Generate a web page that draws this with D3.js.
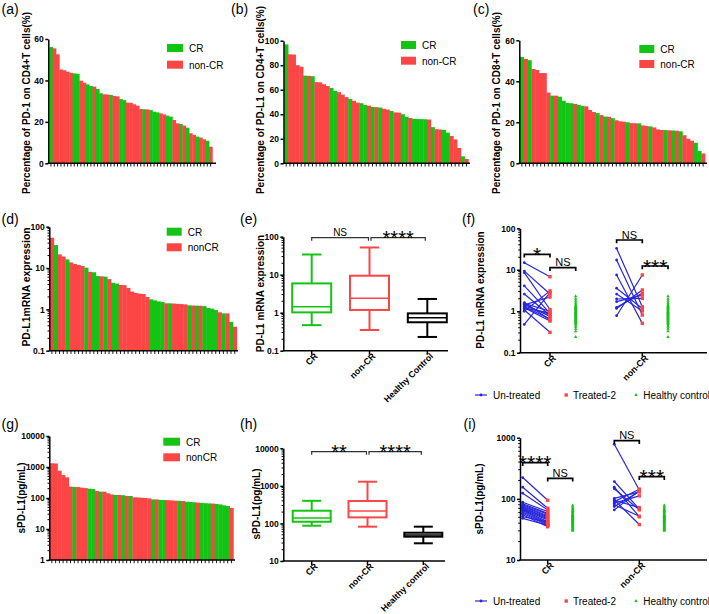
<!DOCTYPE html>
<html><head><meta charset="utf-8">
<script src="https://cdn.jsdelivr.net/npm/d3@7"></script>
<style>body{margin:0;background:#fff}svg{display:block}</style>
</head><body>
<svg id="c" width="709" height="614"></svg>
<script>
// ---------------- DATA ----------------
const barLegend1 = ["CR", "non-CR"];
const barLegend2 = ["CR", "nonCR"];

const aGroup = ["CR","NC","NC","NC","NC","NC","NC","CR","CR","NC","NC","CR","CR","NC","CR","CR","NC","NC","CR","NC","NC","CR","CR","NC","NC","NC","NC","NC","CR","NC","CR","CR","CR","NC","NC","CR","CR","NC","NC","CR","NC","CR","NC","NC","CR","NC","NC","CR","NC"];
const aValues = [56.1,55.5,52.6,45.3,44.9,44.2,43.7,43.4,43.2,39.9,38.9,38.1,37.3,37.0,35.9,33.8,33.3,33.2,33.0,32.5,32.3,31.0,30.5,29.3,29.2,28.5,27.8,26.2,26.1,26.0,25.7,24.9,24.6,24.1,23.6,23.0,22.5,20.9,19.3,19.0,18.2,17.2,14.5,13.7,12.9,12.4,11.6,10.9,8.0];
const aTicks = [0, 20, 40, 60];

const bGroup = ["CR","NC","NC","NC","NC","CR","NC","CR","NC","NC","NC","NC","CR","CR","NC","NC","NC","CR","NC","NC","CR","CR","NC","CR","NC","CR","NC","NC","CR","NC","NC","CR","CR","NC","CR","CR","CR","CR","NC","CR","NC","NC","CR","CR","NC","NC","NC","CR","NC"];
const bValues = [97,88.9,88.7,80,78.8,71.5,71.3,71,66.2,66,64.5,63,61.5,59,58,56,54,52.5,51,49.5,49,47.5,47,46,45.8,45.5,44.5,43.8,42.7,41.5,41.3,40,38,37,36.3,36.1,36,35.9,35.7,29.5,27.8,27.5,27.3,25,22.3,19.5,12.5,5.7,3.5];
const bTicks = [0, 20, 40, 60, 80, 100];

const cGroup = ["CR","NC","CR","NC","NC","NC","NC","NC","CR","NC","CR","CR","CR","CR","NC","CR","CR","NC","NC","NC","CR","NC","CR","NC","CR","NC","NC","NC","CR","NC","NC","CR","NC","NC","CR","NC","NC","NC","CR","NC","CR","NC","CR","NC","NC","NC","CR","CR","NC"];
const cValues = [51.9,50.9,50.3,46,45.5,44,44,34.5,33,33,32.5,30.5,29.5,29.3,29,28.5,28,27.8,26,25,24.5,23.5,22.8,22.7,22,21,20.5,20.3,20,19.6,19.5,19.5,18.5,18.2,18,17.5,16.5,16.3,16.2,16.1,16,15.9,15.6,13.7,12,11,10,6,4.8];
const cTicks = [0, 20, 40, 60];

const dGroup = ["NC","CR","NC","NC","CR","NC","NC","NC","NC","CR","NC","CR","CR","NC","CR","NC","CR","CR","NC","NC","NC","NC","NC","NC","NC","NC","CR","CR","CR","CR","NC","CR","NC","NC","NC","NC","CR","NC","CR","NC","CR","CR","CR","CR","NC","CR","NC","CR","NC"];
const dValues = [54,36,21.4,19,16.2,13.7,12.5,11.8,11.2,10.2,8.1,7.9,6.4,6.3,6.2,5.4,4.4,4.2,3.9,3.85,3.3,2.7,2.5,2.4,2.35,2.0,1.75,1.65,1.56,1.5,1.4,1.4,1.38,1.36,1.34,1.32,1.25,1.24,1.23,1.22,1.2,1.08,1.04,0.96,0.85,0.8,0.8,0.5,0.38];
const dTicks = [0.1, 1, 10, 100];

const gGroup = ["NC","NC","NC","NC","NC","NC","CR","NC","NC","NC","CR","CR","NC","CR","NC","NC","NC","CR","NC","CR","NC","CR","NC","NC","NC","NC","NC","CR","NC","CR","CR","NC","NC","NC","CR","NC","CR","CR","CR","NC","CR","CR","CR","NC","CR","CR","CR","CR","NC"];
const gValues = [1320,1300,760,550,465,232,228,225,215,208,200,195,168,160,160,142,130,125,125,123,116,116,105,104,102,100,97,90,90,87,86,85,84,82,81,80,76,75,73,71,70,68,67,66,64,62,58,55,48];
const gTicks = [1, 10, 100, 1000, 10000];

// box plots: [min, q1, median, q3, max]
const eCats = ["CR", "non-CR", "Healthy Control"];
const eBoxes = [[0.47,1.02,1.44,5.9,34],[0.35,1.18,2.4,9.4,52],[0.23,0.56,0.74,0.96,2.3]];
const eTicks = [0.1, 1, 10, 100];
const hCats = ["CR", "non-CR", "Healthy control"];
const hBoxes = [[87,111,140,218,400],[82,145,214,395,1290],[29.6,44.4,49.2,56.6,82]];
const hTicks = [10, 100, 1000, 10000];

// paired plots
const pairCats = ["CR", "non-CR"];
const pairLegend = ["Un-treated", "Treated-2", "Healthy control"];
const fCRUntreated = [14.8,9.3,8.5,4.1,2.6,1.6,1.55,1.47,1.42,1.34,1.28,1.22,1.18,1.07,1.0,0.48];
const fCRTreated   = [6.8,2.6,1.1,0.9,0.8,0.62,1.0,0.75,2.2,0.84,0.65,0.58,0.92,0.31,3.1,2.8];
const fNCUntreated = [32.9,17.2,7.5,3.6,2.6,1.97,1.7,1.24,1.17,0.78];
const fNCTreated   = [1.28,0.81,0.51,1.17,1.01,2.04,2.45,2.7,3.25,7.5];
const fHealthy = [2.3,2.0,1.8,1.6,1.45,1.35,1.3,1.25,1.2,1.15,1.1,1.05,1.0,0.97,0.94,0.9,0.87,0.84,0.81,0.78,0.75,0.72,0.7,0.67,0.64,0.61,0.58,0.55,0.52,0.49,0.45,0.42,0.38,0.33,0.24];
const fTicks = [0.1, 1, 10, 100];
const iCRUntreated = [223,155,124,88,83,80,77,75,72,70,68,66,64,61,58,55,51,48];
const iCRTreated   = [95,70,66,62,58,56,53,51,49,47,45,42,40,38.5,37,35,42,37];
const iNCUntreated = [780,192,155,146,102,96,95,90,85,80,75,66];
const iNCTreated   = [140,68,51,66,130,38,72,144,112,52,132,136];
const iHealthy = [78,74,70,67,65,63,61,59,57,55,54,53,52,51,50,49,48,47,46,45,44,43,42,41,40,39,38,37,36,35,34,33,32,31,30];
const iTicks = [10, 100, 1000];

// ---------------- STYLE ----------------
const FONT = '"Liberation Sans", Arial, Helvetica, sans-serif';
const GREEN = "#14c414", RED = "#fc4646", BLUE = "#2626dc";
const svg = d3.select("#c");

function txt(g, x, y, s, size, opts = {}) {
  return g.append("text").attr("x", x).attr("y", y).text(s)
    .attr("font-family", FONT).attr("font-size", size)
    .attr("font-weight", opts.bold ? "bold" : "normal")
    .attr("text-anchor", opts.anchor || "start")
    .attr("fill", opts.fill || "#000")
    .attr("letter-spacing", opts.ls || 0);
}
function panelLabel(x, y, s) { txt(svg, x, y, s, 14); }
function yLabel(x, cy, s, size) {
  svg.append("text").attr("transform", `translate(${x},${cy}) rotate(-90)`)
    .attr("text-anchor", "middle").attr("dy", "0.35em")
    .attr("font-family", FONT).attr("font-size", size).attr("font-weight", "bold").text(s);
}
const fmt = d => (d < 1 ? d.toString() : d3.format("d")(d));
function yAxis(scale, x, ticks, log) {
  const ax = d3.axisLeft(scale).tickValues(ticks).tickFormat(fmt).tickSize(3).tickSizeOuter(0).tickPadding(1.5);
  const sel = svg.append("g").attr("transform", `translate(${x},0)`).call(ax);
  sel.select(".domain").attr("stroke", "#000").attr("stroke-width", 1.5);
  sel.selectAll(".tick line").attr("stroke", "#000").attr("stroke-width", 1.5);
  sel.selectAll(".tick text").attr("font-family", FONT).attr("font-size", 8.5).attr("font-weight", "bold").attr("fill", "#000");
  if (log) {
    const [lo, hi] = scale.domain();
    const minors = [];
    for (let e = Math.round(Math.log10(lo)); e < Math.round(Math.log10(hi)); e++)
      for (let k = 2; k <= 9; k++) minors.push(k * Math.pow(10, e));
    svg.append("g").selectAll("line").data(minors).join("line")
      .attr("x1", x - 1.8).attr("x2", x).attr("y1", d => scale(d)).attr("y2", d => scale(d))
      .attr("stroke", "#000").attr("stroke-width", 1);
  }
}
function hLine(x1, x2, y, w = 1.5) {
  svg.append("line").attr("x1", x1).attr("x2", x2).attr("y1", y).attr("y2", y).attr("stroke", "#000").attr("stroke-width", w);
}
function xCatLabel(cx, yb, s) {
  svg.append("text").attr("transform", `translate(${cx + 4.5},${yb + 4}) rotate(-45)`)
    .attr("text-anchor", "end").attr("dy", "0.32em").attr("font-family", FONT).attr("font-size", 8.8)
    .attr("font-weight", "bold").text(s);
}

// ---------------- BAR PANELS ----------------
function barPanel(c) {
  const y = c.log ? d3.scaleLog().domain(c.domain).range([c.yb, c.yt])
                  : d3.scaleLinear().domain(c.domain).range([c.yb, c.yt]);
  const x = d3.scaleBand().domain(d3.range(c.values.length)).range([c.bx0, c.bx1]).padding(0);
  const base = y(c.domain[0]);
  svg.append("g").selectAll("rect").data(c.values).join("rect")
    .attr("x", (d, i) => x(i)).attr("width", x.bandwidth() + 0.4)
    .attr("y", d => y(d)).attr("height", d => base - y(d))
    .attr("fill", (d, i) => c.groups[i] === "CR" ? GREEN : RED);
  hLine(c.ax - 0.75, c.axEnd, base);
  svg.append("g").selectAll("line").data(c.values).join("line")
    .attr("x1", (d, i) => x(i) + x.bandwidth() / 2).attr("x2", (d, i) => x(i) + x.bandwidth() / 2)
    .attr("y1", base).attr("y2", base + 3.2).attr("stroke", "#000").attr("stroke-width", 0.9);
  yAxis(y, c.ax, c.ticks, c.log);
  c.legend.forEach((s, i) => {
    svg.append("rect").attr("x", c.lx).attr("y", c.ly + i * c.lgap).attr("width", c.lw).attr("height", 8)
      .attr("fill", i === 0 ? GREEN : RED);
    txt(svg, c.lx + c.lw + 6, c.ly + i * c.lgap + 7.8, s, 10);
  });
  yLabel(c.ylx, c.ylcy, c.ylabel, c.ylsize);
}

barPanel({values: aValues, groups: aGroup, domain: [0, 60], ticks: aTicks, log: false,
  ax: 48.3, bx0: 49.3, bx1: 212.3, axEnd: 216, yt: 39, yb: 163.3,
  legend: barLegend1, lx: 167, ly: 44, lgap: 16.7, lw: 16,
  ylabel: "Percentage of PD-1 on CD4+T cells(%)", ylx: 26.7, ylcy: 103, ylsize: 10});
barPanel({values: bValues, groups: bGroup, domain: [0, 100], ticks: bTicks, log: false,
  ax: 283.5, bx0: 284.3, bx1: 468.3, axEnd: 470, yt: 40.7, yb: 163.3,
  legend: barLegend1, lx: 401, ly: 41, lgap: 15.7, lw: 15,
  ylabel: "Percentage of PD-L1 on CD4+T cells(%)", ylx: 260, ylcy: 100, ylsize: 10});
barPanel({values: cValues, groups: cGroup, domain: [0, 60], ticks: cTicks, log: false,
  ax: 519.3, bx0: 520, bx1: 705, axEnd: 707, yt: 40.3, yb: 163.3,
  legend: barLegend1, lx: 639.3, ly: 45, lgap: 15, lw: 15,
  ylabel: "Percentage of PD-1 on CD8+T cells(%)", ylx: 496.7, ylcy: 103, ylsize: 10});
barPanel({values: dValues, groups: dGroup, domain: [0.1, 100], ticks: dTicks, log: true,
  ax: 49.3, bx0: 50, bx1: 236.7, axEnd: 238, yt: 226.7, yb: 350.7,
  legend: barLegend2, lx: 166.7, ly: 227.7, lgap: 15.6, lw: 15,
  ylabel: "PD-L1mRNA expression", ylx: 26.2, ylcy: 287, ylsize: 10.4});
barPanel({values: gValues, groups: gGroup, domain: [1, 10000], ticks: gTicks, log: true,
  ax: 49.3, bx0: 50, bx1: 233.3, axEnd: 235, yt: 436, yb: 560,
  legend: barLegend2, lx: 163.3, ly: 437.7, lgap: 15.6, lw: 16.7,
  ylabel: "sPD-L1(pg/mL)", ylx: 21.5, ylcy: 498, ylsize: 10});

// ---------------- BRACKETS ----------------
function bracket(x1, x2, yb, label, cfg) {
  const p = d3.path();
  p.moveTo(x1, yb + cfg.tick); p.lineTo(x1, yb); p.lineTo(x2, yb); p.lineTo(x2, yb + cfg.tick);
  svg.append("path").attr("d", p.toString()).attr("fill", "none").attr("stroke", cfg.color || "#000").attr("stroke-width", cfg.sw);
  const star = label.indexOf("*") >= 0;
  txt(svg, (x1 + x2) / 2, star ? yb + cfg.starDy : yb - cfg.nsDy, label, star ? cfg.starSize : cfg.nsSize,
      {anchor: "middle", bold: !star && cfg.nsBold});
}

// ---------------- BOX PANELS ----------------
function boxPanel(c) {
  const y = d3.scaleLog().domain(c.domain).range([c.yb, c.yt]);
  const x = d3.scalePoint().domain(c.cats).range([c.c0, c.c1]);
  const colors = [GREEN, RED, "#000"];
  c.boxes.forEach((b, i) => {
    const cx = x(c.cats[i]), col = colors[i], g = svg.append("g").attr("stroke", col).attr("stroke-width", 2).attr("fill", "none");
    g.append("line").attr("x1", cx).attr("x2", cx).attr("y1", y(b[0])).attr("y2", y(b[1]));
    g.append("line").attr("x1", cx).attr("x2", cx).attr("y1", y(b[3])).attr("y2", y(b[4]));
    [b[0], b[4]].forEach(v => g.append("line").attr("x1", cx - c.capW).attr("x2", cx + c.capW).attr("y1", y(v)).attr("y2", y(v)));
    g.append("rect").attr("x", cx - c.boxW).attr("width", 2 * c.boxW).attr("y", y(b[3])).attr("height", y(b[1]) - y(b[3])).attr("fill", "#fff");
    g.append("line").attr("x1", cx - c.boxW).attr("x2", cx + c.boxW).attr("y1", y(b[2])).attr("y2", y(b[2])).attr("stroke-width", 1.5);
  });
  hLine(c.ax - 0.75, c.axEnd, c.yb);
  c.cats.forEach(k => {
    const cx = x(k);
    svg.append("line").attr("x1", cx).attr("x2", cx).attr("y1", c.yb).attr("y2", c.yb + 4).attr("stroke", "#000").attr("stroke-width", 1.5);
    xCatLabel(cx, c.yb, k);
  });
  yAxis(y, c.ax, c.ticks, true);
  yLabel(c.ylx, c.ylcy, c.ylabel, 10);
  const bc = {tick: 3, sw: 1.2, color: "#333", starDy: 7, nsDy: 2, starSize: 20, nsSize: 10};
  bracket(x(c.cats[0]), x(c.cats[1]) - 1, c.br, c.sig[0], bc);
  bracket(x(c.cats[1]) + 1.5, x(c.cats[2]) - 2, c.br, c.sig[1], bc);
}

boxPanel({cats: eCats, boxes: eBoxes, domain: [0.1, 100], ticks: eTicks, yt: 236.7, yb: 350.7,
  ax: 283.3, axEnd: 448, c0: 311.7, c1: 427.3, boxW: 19.5, capW: 9.7, br: 237.7, sig: ["NS", "****"],
  ylabel: "PD-L1 mRNA expression", ylx: 260.7, ylcy: 293.5});
boxPanel({cats: hCats, boxes: hBoxes, domain: [10, 10000], ticks: hTicks, yt: 448.3, yb: 561,
  ax: 283.3, axEnd: 445, c0: 311.7, c1: 423.3, boxW: 19, capW: 9.5, br: 451.7, sig: ["**", "****"],
  ylabel: "sPD-L1(pg/mL)", ylx: 256, ylcy: 504});

// ---------------- PAIRED PANELS ----------------
function pairedPanel(c) {
  const y = d3.scaleLog().domain(c.domain).range([c.yb, c.yt]);
  const x = d3.scalePoint().domain(pairCats).range([c.c0, c.c1]);
  const groups = [[c.crU, c.crT], [c.ncU, c.ncT]];
  groups.forEach((gp, gi) => {
    const cx = x(pairCats[gi]);
    const xu = cx - c.off, xt = cx, xh = cx + c.off;
    gp[0].forEach((u, j) => {
      svg.append("line").attr("x1", xu).attr("x2", xt).attr("y1", y(u)).attr("y2", y(gp[1][j]))
        .attr("stroke", BLUE).attr("stroke-width", 1.2);
    });
    svg.append("g").selectAll("circle").data(gp[0]).join("circle")
      .attr("cx", xu).attr("cy", d => y(d)).attr("r", 1.4).attr("fill", BLUE);
    svg.append("g").selectAll("rect").data(gp[1]).join("rect")
      .attr("x", xt - 1.7).attr("y", d => y(d) - 1.7).attr("width", 3.4).attr("height", 3.4).attr("fill", RED);
    svg.append("g").selectAll("path").data(c.healthy).join("path")
      .attr("d", d3.symbol(d3.symbolTriangle, 5)).attr("transform", d => `translate(${xh},${y(d)})`).attr("fill", GREEN);
  });
  hLine(c.ax - 0.75, 707, c.yb);
  pairCats.forEach(k => {
    const cx = x(k);
    svg.append("line").attr("x1", cx).attr("x2", cx).attr("y1", c.yb).attr("y2", c.yb + 4).attr("stroke", "#000").attr("stroke-width", 1.5);
    xCatLabel(cx, c.yb, k);
  });
  yAxis(y, c.ax, c.ticks, true);
  yLabel(c.ylx, c.ylcy, c.ylabel, 10);
  const bc = {tick: 3.3, sw: 1.7, starDy: 7.5, nsDy: 1.5, starSize: 21, nsSize: 11, nsBold: false};
  const cr = x(pairCats[0]), nc = x(pairCats[1]);
  bracket(cr - c.off, cr, c.brs[0], c.sig[0], bc);
  bracket(cr, cr + c.off, c.brs[1], c.sig[1], bc);
  bracket(nc - c.off, nc, c.brs[2], c.sig[2], bc);
  bracket(nc, nc + c.off, c.brs[3], c.sig[3], bc);
  const ly = c.legY;
  svg.append("line").attr("x1", 475).attr("x2", 487).attr("y1", ly).attr("y2", ly).attr("stroke", BLUE).attr("stroke-width", 1.2);
  svg.append("circle").attr("cx", 481).attr("cy", ly).attr("r", 1.4).attr("fill", BLUE);
  txt(svg, 493, ly + 3.6, pairLegend[0], 10);
  svg.append("rect").attr("x", 564.5).attr("y", ly - 1.7).attr("width", 3.4).attr("height", 3.4).attr("fill", RED);
  txt(svg, 573, ly + 3.6, pairLegend[1], 10);
  svg.append("path").attr("d", d3.symbol(d3.symbolTriangle, 5)).attr("transform", `translate(636,${ly})`).attr("fill", GREEN);
  txt(svg, 643.3, ly + 3.6, pairLegend[2], 10);
}

pairedPanel({domain: [0.1, 100], ticks: fTicks, yt: 228.3, yb: 352.7, ax: 520, c0: 550, c1: 642.3, off: 25.7,
  crU: fCRUntreated, crT: fCRTreated, ncU: fNCUntreated, ncT: fNCTreated, healthy: fHealthy,
  brs: [254.3, 267.7, 240, 266], sig: ["*", "NS", "NS", "***"], legY: 395,
  ylabel: "PD-L1 mRNA expression", ylx: 480, ylcy: 290});
pairedPanel({domain: [10, 1000], ticks: iTicks, yt: 437.7, yb: 560, ax: 520, c0: 547.7, c1: 639.3, off: 25,
  crU: iCRUntreated, crT: iCRTreated, ncU: iNCUntreated, ncT: iNCTreated, healthy: iHealthy,
  brs: [462.7, 478.3, 440.7, 476.7], sig: ["****", "NS", "NS", "***"], legY: 601,
  ylabel: "sPD-L1(pg/mL)", ylx: 479, ylcy: 499});

// ---------------- PANEL LABELS ----------------
panelLabel(1.5, 13.5, "(a)"); panelLabel(231, 13.5, "(b)"); panelLabel(473, 13.5, "(c)");
panelLabel(1.5, 224, "(d)"); panelLabel(240, 224, "(e)"); panelLabel(462, 224, "(f)");
panelLabel(1.5, 429, "(g)"); panelLabel(240, 429, "(h)"); panelLabel(463.5, 429, "(i)");
</script>
</body></html>
